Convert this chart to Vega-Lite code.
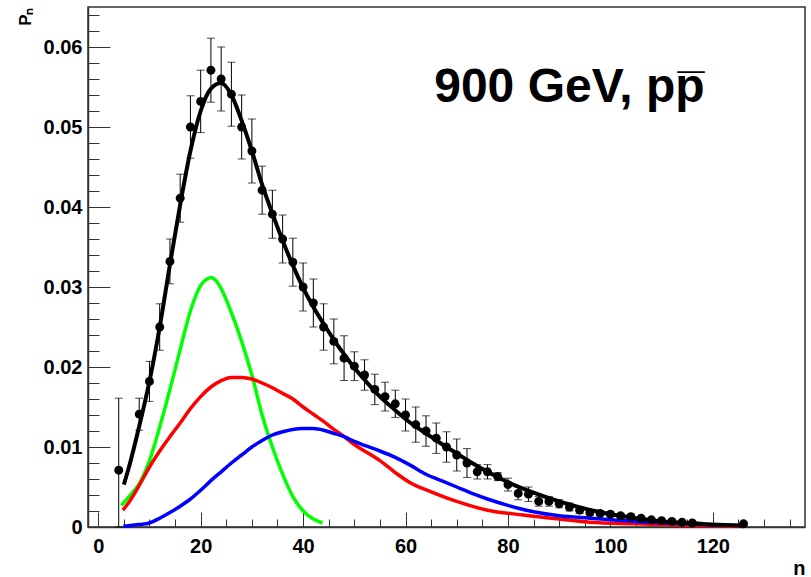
{
  "$schema": "https://vega.github.io/schema/vega-lite/v6.json",
  "width": 717,
  "height": 520,
  "autosize": {"type": "none"},
  "padding": {"left": 88, "top": 7, "right": 6, "bottom": 50},
  "background": "white",
  "config": {
    "view": {"stroke": "#333", "strokeWidth": 1.5},
    "font": "Liberation Sans"
  },
  "datasets": {
    "pts": [
      {"n": 4, "p": 0.0071, "lo": 0, "hi": 0.0161},
      {"n": 8, "p": 0.0141, "lo": 0.0121, "hi": 0.0161},
      {"n": 10, "p": 0.0182, "lo": 0.0157, "hi": 0.0207},
      {"n": 12, "p": 0.025, "lo": 0.0221, "hi": 0.0279},
      {"n": 14, "p": 0.0332, "lo": 0.0304, "hi": 0.036},
      {"n": 16, "p": 0.0411, "lo": 0.0381, "hi": 0.0441},
      {"n": 18, "p": 0.05, "lo": 0.0461, "hi": 0.0539},
      {"n": 20, "p": 0.0532, "lo": 0.0493, "hi": 0.0571},
      {"n": 22, "p": 0.0571, "lo": 0.0531, "hi": 0.0611},
      {"n": 24, "p": 0.056, "lo": 0.052, "hi": 0.06},
      {"n": 26, "p": 0.0541, "lo": 0.0501, "hi": 0.0581},
      {"n": 28, "p": 0.05, "lo": 0.046, "hi": 0.054},
      {"n": 30, "p": 0.047, "lo": 0.043, "hi": 0.051},
      {"n": 32, "p": 0.0421, "lo": 0.0391, "hi": 0.0451},
      {"n": 34, "p": 0.0391, "lo": 0.0361, "hi": 0.0421},
      {"n": 36, "p": 0.036, "lo": 0.033, "hi": 0.039},
      {"n": 38, "p": 0.0331, "lo": 0.0301, "hi": 0.0361},
      {"n": 40, "p": 0.03, "lo": 0.027, "hi": 0.033},
      {"n": 42, "p": 0.028, "lo": 0.025, "hi": 0.031},
      {"n": 44, "p": 0.025, "lo": 0.0221, "hi": 0.0279},
      {"n": 46, "p": 0.0232, "lo": 0.0204, "hi": 0.026},
      {"n": 48, "p": 0.0211, "lo": 0.0183, "hi": 0.0239},
      {"n": 50, "p": 0.0201, "lo": 0.0183, "hi": 0.0219},
      {"n": 52, "p": 0.019, "lo": 0.0171, "hi": 0.0209},
      {"n": 54, "p": 0.0172, "lo": 0.0153, "hi": 0.0191},
      {"n": 56, "p": 0.0163, "lo": 0.0145, "hi": 0.0181},
      {"n": 58, "p": 0.0154, "lo": 0.0137, "hi": 0.0171},
      {"n": 60, "p": 0.014, "lo": 0.012, "hi": 0.016},
      {"n": 62, "p": 0.0128, "lo": 0.0106, "hi": 0.015},
      {"n": 64, "p": 0.012, "lo": 0.0101, "hi": 0.0139},
      {"n": 66, "p": 0.0111, "lo": 0.0092, "hi": 0.013},
      {"n": 68, "p": 0.01, "lo": 0.0081, "hi": 0.0119},
      {"n": 70, "p": 0.009, "lo": 0.007, "hi": 0.011},
      {"n": 72, "p": 0.008, "lo": 0.0062, "hi": 0.0098},
      {"n": 74, "p": 0.0069, "lo": 0.006, "hi": 0.0078},
      {"n": 76, "p": 0.0069, "lo": 0.006, "hi": 0.0078},
      {"n": 78, "p": 0.0063, "lo": 0.0058, "hi": 0.0068},
      {"n": 80, "p": 0.0053, "lo": 0.0045, "hi": 0.0061},
      {"n": 82, "p": 0.0042, "lo": 0.0034, "hi": 0.005},
      {"n": 84, "p": 0.0041, "lo": 0.0032, "hi": 0.005},
      {"n": 86, "p": 0.0032, "lo": 0.0026, "hi": 0.0038},
      {"n": 88, "p": 0.0032, "lo": 0.0026, "hi": 0.0038},
      {"n": 90, "p": 0.0029, "lo": 0.0024, "hi": 0.0034},
      {"n": 92, "p": 0.0025, "lo": 0.002, "hi": 0.003},
      {"n": 94, "p": 0.0021, "lo": 0.0017, "hi": 0.0025},
      {"n": 96, "p": 0.0018, "lo": 0.0015, "hi": 0.0021},
      {"n": 98, "p": 0.0017, "lo": 0.0014, "hi": 0.002},
      {"n": 100, "p": 0.0016, "lo": 0.0013, "hi": 0.0019},
      {"n": 102, "p": 0.0014, "lo": 0.0011, "hi": 0.0017},
      {"n": 104, "p": 0.0013, "lo": 0.001, "hi": 0.0016},
      {"n": 106, "p": 0.0011, "lo": 0.0009, "hi": 0.0013},
      {"n": 108, "p": 0.0009, "lo": 0.0007, "hi": 0.0011},
      {"n": 110, "p": 0.0008, "lo": 0.0006, "hi": 0.001},
      {"n": 112, "p": 0.0007, "lo": 0.0005, "hi": 0.0009},
      {"n": 114, "p": 0.0006, "lo": 0.0004, "hi": 0.0008},
      {"n": 116, "p": 0.0005, "lo": 0.0003, "hi": 0.0007},
      {"n": 126, "p": 0.0004, "lo": 0.0002, "hi": 0.0006}
    ],
    "fit": [
      {"n": 5, "p": 0.0053}, {"n": 6, "p": 0.0075}, {"n": 8, "p": 0.0126},
      {"n": 10, "p": 0.0182}, {"n": 12, "p": 0.025}, {"n": 14, "p": 0.0328},
      {"n": 16, "p": 0.0403}, {"n": 18, "p": 0.047}, {"n": 20, "p": 0.052},
      {"n": 22, "p": 0.0548}, {"n": 24, "p": 0.0555}, {"n": 26, "p": 0.054},
      {"n": 28, "p": 0.0508}, {"n": 30, "p": 0.047}, {"n": 32, "p": 0.0428},
      {"n": 34, "p": 0.0392}, {"n": 36, "p": 0.0358}, {"n": 38, "p": 0.0327},
      {"n": 40, "p": 0.0299}, {"n": 42, "p": 0.0275}, {"n": 44, "p": 0.0254},
      {"n": 46, "p": 0.0234}, {"n": 48, "p": 0.0216}, {"n": 50, "p": 0.0199},
      {"n": 52, "p": 0.0184}, {"n": 55, "p": 0.0163}, {"n": 58, "p": 0.0146},
      {"n": 61, "p": 0.013}, {"n": 64, "p": 0.0117}, {"n": 67, "p": 0.0104},
      {"n": 70, "p": 0.0092}, {"n": 73, "p": 0.008}, {"n": 76, "p": 0.0069},
      {"n": 80, "p": 0.0056}, {"n": 85, "p": 0.0043}, {"n": 90, "p": 0.0032},
      {"n": 95, "p": 0.0023}, {"n": 100, "p": 0.0016}, {"n": 105, "p": 0.0011},
      {"n": 110, "p": 0.0007}, {"n": 115, "p": 0.0005}, {"n": 120, "p": 0.0003},
      {"n": 126, "p": 0.0002}
    ],
    "comp": [
      {"s": "g", "n": 4.5, "p": 0.0027}, {"s": "g", "n": 6, "p": 0.0038},
      {"s": "g", "n": 8, "p": 0.0054}, {"s": "g", "n": 10, "p": 0.0083},
      {"s": "g", "n": 12, "p": 0.0125}, {"s": "g", "n": 14, "p": 0.0172},
      {"s": "g", "n": 16, "p": 0.0222}, {"s": "g", "n": 18, "p": 0.027},
      {"s": "g", "n": 20, "p": 0.0302}, {"s": "g", "n": 21, "p": 0.0309},
      {"s": "g", "n": 22, "p": 0.0312}, {"s": "g", "n": 23, "p": 0.0308},
      {"s": "g", "n": 24, "p": 0.0298}, {"s": "g", "n": 26, "p": 0.0268},
      {"s": "g", "n": 28, "p": 0.0232}, {"s": "g", "n": 30, "p": 0.019},
      {"s": "g", "n": 32, "p": 0.014}, {"s": "g", "n": 34, "p": 0.01},
      {"s": "g", "n": 36, "p": 0.0066}, {"s": "g", "n": 38, "p": 0.0038},
      {"s": "g", "n": 40, "p": 0.002}, {"s": "g", "n": 42, "p": 0.001},
      {"s": "g", "n": 43.8, "p": 0.0005},
      {"s": "r", "n": 4.8, "p": 0.0021}, {"s": "r", "n": 6, "p": 0.0031},
      {"s": "r", "n": 8, "p": 0.0052}, {"s": "r", "n": 10, "p": 0.0075},
      {"s": "r", "n": 12, "p": 0.0095}, {"s": "r", "n": 14, "p": 0.0113},
      {"s": "r", "n": 16, "p": 0.013}, {"s": "r", "n": 18, "p": 0.0148},
      {"s": "r", "n": 20, "p": 0.0163}, {"s": "r", "n": 22, "p": 0.0175},
      {"s": "r", "n": 24, "p": 0.0183}, {"s": "r", "n": 26, "p": 0.0187},
      {"s": "r", "n": 28, "p": 0.0187}, {"s": "r", "n": 30, "p": 0.0185},
      {"s": "r", "n": 32, "p": 0.018}, {"s": "r", "n": 34, "p": 0.0174},
      {"s": "r", "n": 36, "p": 0.0167}, {"s": "r", "n": 38, "p": 0.016},
      {"s": "r", "n": 40, "p": 0.015}, {"s": "r", "n": 42, "p": 0.0141},
      {"s": "r", "n": 44, "p": 0.0132}, {"s": "r", "n": 46, "p": 0.0122},
      {"s": "r", "n": 48, "p": 0.0113}, {"s": "r", "n": 50, "p": 0.0103},
      {"s": "r", "n": 52, "p": 0.0095}, {"s": "r", "n": 55, "p": 0.0083},
      {"s": "r", "n": 58, "p": 0.0068}, {"s": "r", "n": 61, "p": 0.0055},
      {"s": "r", "n": 65, "p": 0.0044}, {"s": "r", "n": 70, "p": 0.0032},
      {"s": "r", "n": 76, "p": 0.0021}, {"s": "r", "n": 83, "p": 0.0015},
      {"s": "r", "n": 90, "p": 0.001}, {"s": "r", "n": 96, "p": 0.0006},
      {"s": "r", "n": 105, "p": 0.0004}, {"s": "r", "n": 115, "p": 0.0002},
      {"s": "r", "n": 125, "p": 0.0001},
      {"s": "b", "n": 4.9, "p": 0.0001}, {"s": "b", "n": 8, "p": 0.0003},
      {"s": "b", "n": 10, "p": 0.0005}, {"s": "b", "n": 12, "p": 0.0011},
      {"s": "b", "n": 14, "p": 0.0018}, {"s": "b", "n": 16, "p": 0.0026},
      {"s": "b", "n": 18, "p": 0.0035}, {"s": "b", "n": 20, "p": 0.0046},
      {"s": "b", "n": 22, "p": 0.0058}, {"s": "b", "n": 24, "p": 0.0069},
      {"s": "b", "n": 26, "p": 0.008}, {"s": "b", "n": 28, "p": 0.009},
      {"s": "b", "n": 30, "p": 0.01}, {"s": "b", "n": 32, "p": 0.0108},
      {"s": "b", "n": 34, "p": 0.0115}, {"s": "b", "n": 36, "p": 0.0119},
      {"s": "b", "n": 38, "p": 0.0122}, {"s": "b", "n": 40, "p": 0.0123},
      {"s": "b", "n": 42, "p": 0.0123}, {"s": "b", "n": 44, "p": 0.0121},
      {"s": "b", "n": 46, "p": 0.0117}, {"s": "b", "n": 48, "p": 0.0113},
      {"s": "b", "n": 50, "p": 0.0107}, {"s": "b", "n": 52, "p": 0.0102},
      {"s": "b", "n": 55, "p": 0.0095}, {"s": "b", "n": 58, "p": 0.0087},
      {"s": "b", "n": 61, "p": 0.0077}, {"s": "b", "n": 64, "p": 0.0066},
      {"s": "b", "n": 67, "p": 0.0058}, {"s": "b", "n": 70, "p": 0.005},
      {"s": "b", "n": 73, "p": 0.0042}, {"s": "b", "n": 76, "p": 0.0035},
      {"s": "b", "n": 80, "p": 0.0027}, {"s": "b", "n": 85, "p": 0.0019},
      {"s": "b", "n": 90, "p": 0.0014}, {"s": "b", "n": 96, "p": 0.0011},
      {"s": "b", "n": 105, "p": 0.0007}, {"s": "b", "n": 115, "p": 0.0004},
      {"s": "b", "n": 122, "p": 0.0002}
    ]
  },
  "resolve": {"axis": {"x": "independent", "y": "independent"}},
  "layer": [
    {
      "data": {"name": "comp"},
      "mark": {"type": "line", "strokeWidth": 3.5, "interpolate": "monotone"},
      "encoding": {
        "x": {
          "field": "n", "type": "quantitative",
          "scale": {"domain": [-2, 138], "nice": false, "zero": false},
          "axis": {
            "values": [0, 20, 40, 60, 80, 100, 120],
            "tickSize": -15, "tickColor": "#333", "domainColor": "#333", "domainWidth": 1.5,
            "grid": false,
            "labelFont": "Liberation Sans", "labelFontWeight": "bold", "labelFontSize": 20,
            "labelColor": "black", "labelPadding": 24,
            "title": "n", "titleAnchor": "end", "titleFont": "Liberation Sans",
            "titleFontWeight": "bold", "titleFontSize": 20, "titleColor": "black", "titlePadding": 2
          }
        },
        "y": {
          "field": "p", "type": "quantitative",
          "scale": {"domain": [0, 0.065], "nice": false, "zero": true},
          "axis": {
            "values": [0, 0.01, 0.02, 0.03, 0.04, 0.05, 0.06],
            "labelExpr": "datum.value == 0 ? '0' : format(datum.value, '.2f')",
            "tickSize": -22, "tickColor": "#333", "domainColor": "#333", "domainWidth": 1.5,
            "grid": false,
            "labelFont": "Liberation Sans", "labelFontWeight": "bold", "labelFontSize": 20,
            "labelColor": "black", "labelPadding": 28,
            "title": "Pₙ", "titleAnchor": "end", "titleFont": "Liberation Sans",
            "titleFontWeight": "bold", "titleFontSize": 17, "titleColor": "black", "titlePadding": 9
          }
        },
        "color": {
          "field": "s", "type": "nominal", "legend": null,
          "scale": {"domain": ["g", "r", "b"], "range": ["#00ff00", "#ff0000", "#0000ff"]}
        }
      }
    },
    {
      "data": {"name": "comp"},
      "mark": {"type": "point", "opacity": 0},
      "encoding": {
        "x": {
          "field": "n", "type": "quantitative",
          "axis": {
            "orient": "bottom",
            "values": [0, 5, 10, 15, 25, 30, 35, 45, 50, 55, 65, 70, 75, 85, 90, 95, 105, 110, 115, 125, 130, 135],
            "tickSize": -8, "tickColor": "#333", "domain": false, "labels": false, "grid": false, "title": null
          }
        },
        "y": {
          "field": "p", "type": "quantitative",
          "axis": {
            "orient": "left",
            "values": [0.002, 0.004, 0.006, 0.008, 0.012, 0.014, 0.016, 0.018, 0.022, 0.024, 0.026, 0.028, 0.032, 0.034, 0.036, 0.038, 0.042, 0.044, 0.046, 0.048, 0.052, 0.054, 0.056, 0.058, 0.062, 0.064],
            "tickSize": -11, "tickColor": "#333", "domain": false, "labels": false, "grid": false, "title": null
          }
        }
      }
    },
    {
      "data": {"name": "fit"},
      "mark": {"type": "line", "strokeWidth": 4, "color": "black", "interpolate": "monotone"},
      "encoding": {
        "x": {"field": "n", "type": "quantitative", "axis": null},
        "y": {"field": "p", "type": "quantitative", "axis": null}
      }
    },
    {
      "data": {"name": "pts"},
      "mark": {"type": "rule", "color": "black", "strokeWidth": 1},
      "encoding": {
        "x": {"field": "n", "type": "quantitative", "axis": null},
        "y": {"field": "lo", "type": "quantitative", "axis": null},
        "y2": {"field": "hi"}
      }
    },
    {
      "data": {"name": "pts"},
      "mark": {"type": "tick", "orient": "horizontal", "size": 8, "thickness": 1, "color": "black"},
      "encoding": {
        "x": {"field": "n", "type": "quantitative", "axis": null},
        "y": {"field": "hi", "type": "quantitative", "axis": null}
      }
    },
    {
      "data": {"name": "pts"},
      "mark": {"type": "tick", "orient": "horizontal", "size": 8, "thickness": 1, "color": "black"},
      "encoding": {
        "x": {"field": "n", "type": "quantitative", "axis": null},
        "y": {"field": "lo", "type": "quantitative", "axis": null}
      }
    },
    {
      "data": {"name": "pts"},
      "mark": {"type": "circle", "size": 80, "color": "black", "opacity": 1},
      "encoding": {
        "x": {"field": "n", "type": "quantitative", "axis": null},
        "y": {"field": "p", "type": "quantitative", "axis": null}
      }
    },
    {
      "data": {"values": [{"label": "900 GeV, pp̅"}]},
      "mark": {"type": "text", "align": "left", "baseline": "alphabetic", "font": "Liberation Sans", "fontWeight": "bold", "fontSize": 48, "color": "black"},
      "encoding": {
        "x": {"datum": 65.6, "type": "quantitative", "axis": null},
        "y": {"datum": 0.0531, "type": "quantitative", "axis": null},
        "text": {"field": "label"}
      }
    }
  ]
}
